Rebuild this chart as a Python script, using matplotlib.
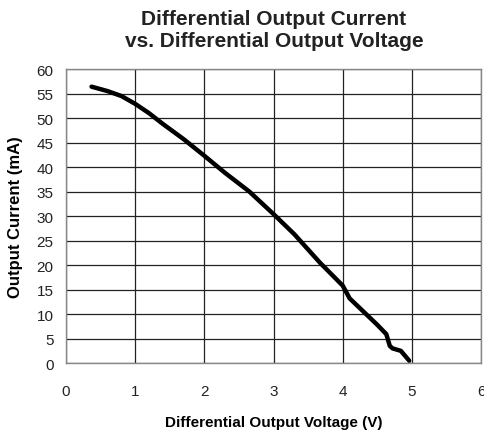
import matplotlib
matplotlib.use("Agg")
import matplotlib.pyplot as plt

voltage = [0.37, 0.6, 0.8, 1.0, 1.2, 1.4, 1.7, 2.0, 2.3, 2.65, 3.0, 3.3, 3.67, 4.0, 4.1, 4.3, 4.5, 4.63, 4.68, 4.72, 4.84, 4.96]
current = [56.4, 55.5, 54.5, 52.9, 51.0, 48.8, 45.7, 42.3, 38.8, 35.0, 30.4, 26.3, 20.5, 15.8, 13.2, 10.5, 7.8, 5.9, 3.5, 3.0, 2.5, 0.5]
xticks = [0, 1, 2, 3, 4, 5, 6]
yticks = [0, 5, 10, 15, 20, 25, 30, 35, 40, 45, 50, 55, 60]

plt.rcParams['font.family'] = ['Liberation Sans', 'DejaVu Sans']

fig = plt.figure(figsize=(4.85, 4.35), dpi=100)
ax = fig.add_axes([0.136, 0.163, 0.856, 0.676])
ax.plot(voltage, current, color='black', lw=3.2, solid_capstyle='round', solid_joinstyle='round', zorder=3)
ax.set_xlim(0, 6)
ax.set_ylim(0, 60)
ax.set_xticks(xticks)
ax.set_yticks(yticks)
ax.tick_params(length=0, labelsize=11, colors='#222222')
ax.tick_params(axis='x', pad=15)
ax.tick_params(axis='y', pad=9)
ax.grid(True, color='#222222', lw=0.9)
ax.set_axisbelow(True)
for s in ax.spines.values():
    s.set_color('#888888')
    s.set_linewidth(1.0)
ax.set_xlabel('Differential Output Voltage (V)', fontsize=11, fontweight='bold', labelpad=12)
ax.set_ylabel('Output Current (mA)', fontsize=12, fontweight='bold', labelpad=10)
fig.text(0.565, 0.930, 'Differential Output Current\nvs. Differential Output Voltage',
         ha='center', va='center', fontsize=15, fontweight='bold', color='#222222', linespacing=1.2)
fig.savefig('out.png', dpi=100)
